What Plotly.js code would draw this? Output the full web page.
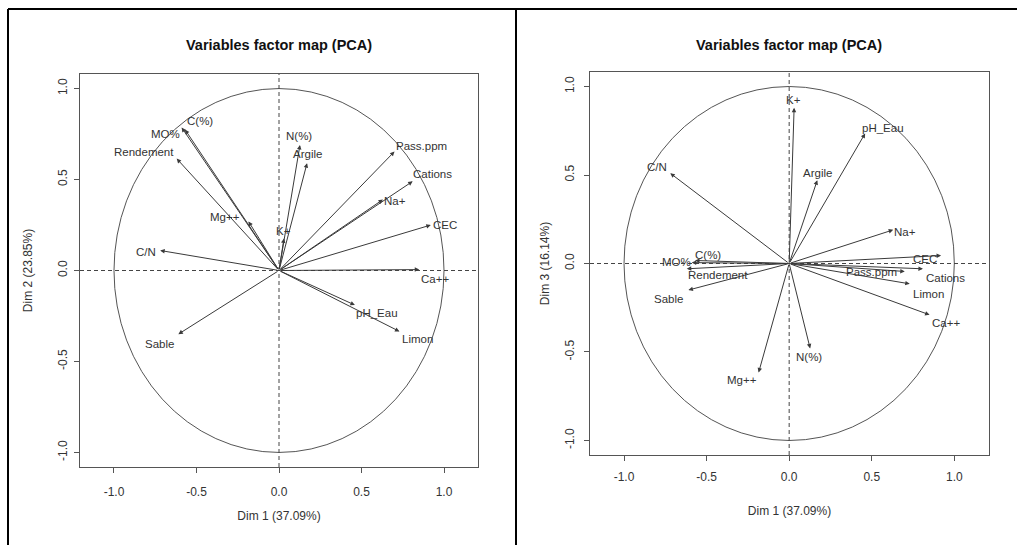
<!DOCTYPE html>
<html>
<head>
<meta charset="utf-8">
<script src="https://cdn.plot.ly/plotly-3.0.1.min.js"></script>
<style>html,body{margin:0;padding:0;background:#fff;}#chart{width:1017px;height:545px;}</style>
</head>
<body>
<div id="chart"></div>
<script>
// ---- data ----
const variables = ['C(%)','MO%','Rendement','Mg++','C/N','K+','N(%)','Argile','Pass.ppm','Cations','Na+','CEC','Ca++','pH_Eau','Limon','Sable'];
const dim1 = [-0.57,-0.59,-0.62,-0.185,-0.72,0.03,0.127,0.17,0.70,0.81,0.63,0.92,0.85,0.46,0.73,-0.61];
const dim2 = [0.775,0.786,0.615,0.27,0.11,0.176,0.69,0.59,0.654,0.49,0.39,0.25,0.005,-0.19,-0.335,-0.35];
const dim3 = [0.017,0.005,-0.03,-0.616,0.51,0.88,-0.48,0.47,-0.045,-0.03,0.19,0.045,-0.29,0.735,-0.115,-0.15];
const tickVals = [-1,-0.5,0,0.5,1];
const tickText = ['-1.0','-0.5','0.0','0.5','1.0'];
const chartTitle = 'Variables factor map (PCA)';
const xTitle = 'Dim 1 (37.09%)';
const yTitleLeft = 'Dim 2 (23.85%)';
const yTitleRight = 'Dim 3 (16.14%)';

// ---- label placement (styling: pixel offsets from arrow tip) ----
const shiftLeft = [[15,8],[-16,-7],[-33,7],[-23,4],[-14,-2],[0,7],[-1,9],[0,9],[27,6],[20,7],[12,-1],[14,0],[16,-9],[22,-8],[18,-8],[-19,-10]];
const shiftRight = [[13,5],[-15,1],[31,-6],[-17,-7],[-13,6],[-1,8],[-1,-9],[0,7],[-33,-1],[23,-9],[12,-2],[-16,-3],[16,-8],[18,5],[19,-10],[-20,-9]];

const FONT = 'Liberation Sans, Arial, sans-serif';
const textColor = '#333';
const arrowColor = '#3a3a3a';
const W = 1017, H = 545;

const annotations = [];
const shapes = [];

function addPanel(xs, ys, xa, ya, shifts) {
  for (let i = 0; i < variables.length; i++) {
    annotations.push({
      xref: xa, yref: ya, axref: xa, ayref: ya,
      x: xs[i], y: ys[i], ax: 0, ay: 0,
      text: '', showarrow: true, arrowhead: 2, arrowsize: 0.9, arrowwidth: 1,
      arrowcolor: arrowColor, standoff: 0, startstandoff: 0
    });
    annotations.push({
      xref: xa, yref: ya, x: xs[i], y: ys[i], text: variables[i],
      showarrow: false, xanchor: 'center', yanchor: 'middle',
      xshift: shifts[i][0], yshift: shifts[i][1],
      font: {family: FONT, size: 11.5, color: textColor}
    });
  }
  // unit circle
  shapes.push({type: 'circle', xref: xa, yref: ya, x0: -1, x1: 1, y0: -1, y1: 1,
    line: {color: '#555', width: 1}});
  // dashed axes through origin
  shapes.push({type: 'line', xref: xa, yref: ya + ' domain', x0: 0, x1: 0, y0: 0, y1: 1,
    line: {color: '#444', width: 1, dash: '4px,3px'}});
  shapes.push({type: 'line', xref: xa + ' domain', yref: ya, x0: 0, x1: 1, y0: 0, y1: 0,
    line: {color: '#444', width: 1, dash: '4px,3px'}});
}

addPanel(dim1, dim2, 'x', 'y', shiftLeft);
addPanel(dim1, dim3, 'x2', 'y2', shiftRight);

// panel titles
function px(x) { return x / W; }
function py(y) { return 1 - y / H; }
annotations.push({xref: 'paper', yref: 'paper', x: px(279), y: py(45), xanchor: 'center', yanchor: 'middle',
  text: '<b>' + chartTitle + '</b>', showarrow: false, font: {family: FONT, size: 14.5, color: '#111'}});
annotations.push({xref: 'paper', yref: 'paper', x: px(789), y: py(45), xanchor: 'center', yanchor: 'middle',
  text: '<b>' + chartTitle + '</b>', showarrow: false, font: {family: FONT, size: 14.5, color: '#111'}});

// document table borders
const border = {color: '#000', width: 2};
shapes.push({type: 'line', xref: 'paper', yref: 'paper', x0: px(8), x1: px(1017), y0: py(9), y1: py(9), line: border});
shapes.push({type: 'line', xref: 'paper', yref: 'paper', x0: px(8), x1: px(8), y0: py(9), y1: py(545), line: border});
shapes.push({type: 'line', xref: 'paper', yref: 'paper', x0: px(516), x1: px(516), y0: py(9), y1: py(545), line: border});

function axis(domain, range, extra) {
  return Object.assign({
    domain: domain, range: range, showgrid: false, zeroline: false,
    showline: true, mirror: true, linecolor: '#555', linewidth: 1,
    ticks: 'outside', ticklen: 5, tickcolor: '#555', tickwidth: 1,
    tickvals: tickVals, ticktext: tickText,
    tickfont: {family: FONT, size: 12, color: textColor}
  }, extra);
}

const layout = {
  width: W, height: H,
  margin: {l: 0, r: 0, t: 0, b: 0},
  paper_bgcolor: '#fff', plot_bgcolor: '#fff',
  showlegend: false,
  xaxis: axis([80/W, 478/W], [-1.206, 1.206], {anchor: 'y', ticklabelstandoff: 9,
    title: {text: xTitle, standoff: 13, font: {family: FONT, size: 12, color: textColor}}}),
  yaxis: axis([1-467/H, 1-74/H], [-1.08, 1.08], {anchor: 'x', tickangle: -90, ticklabelstandoff: 2,
    title: {text: yTitleLeft, standoff: 21, font: {family: FONT, size: 12, color: textColor}}}),
  xaxis2: axis([590/W, 989/W], [-1.206, 1.21], {anchor: 'y2', ticklabelstandoff: 6,
    title: {text: xTitle, standoff: 23, font: {family: FONT, size: 12, color: textColor}}}),
  yaxis2: axis([1-455/H, 1-72/H], [-1.082, 1.082], {anchor: 'x2', tickangle: -90, ticklabelstandoff: 5,
    title: {text: yTitleRight, standoff: 11, font: {family: FONT, size: 12, color: textColor}}}),
  annotations: annotations,
  shapes: shapes
};

const traces = [
  {type: 'scatter', mode: 'markers', x: dim1, y: dim2, xaxis: 'x', yaxis: 'y',
   marker: {size: 1, color: 'rgba(0,0,0,0)'}, hoverinfo: 'skip'},
  {type: 'scatter', mode: 'markers', x: dim1, y: dim3, xaxis: 'x2', yaxis: 'y2',
   marker: {size: 1, color: 'rgba(0,0,0,0)'}, hoverinfo: 'skip'}
];

Plotly.newPlot('chart', traces, layout, {displayModeBar: false, staticPlot: true});
</script>
</body>
</html>
